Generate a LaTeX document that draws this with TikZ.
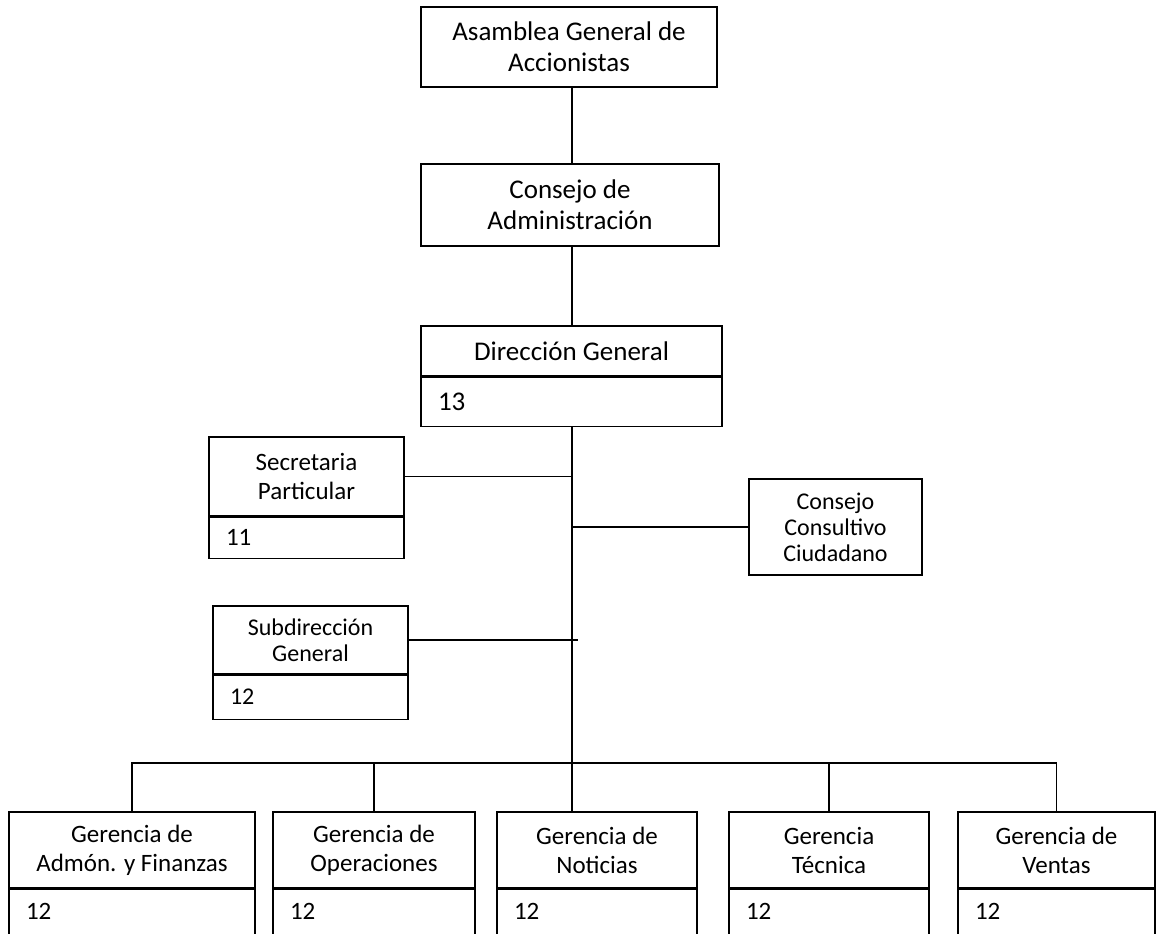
\documentclass[tikz,border=0pt]{standalone}
\usepackage{fontspec}
\setmainfont{Carlito}
\begin{document}
\begin{tikzpicture}[x=1pt,y=-1pt,
  box/.style={draw=black, line width=1.2pt, inner sep=0pt, align=center},
  numpart/.style={draw=black, line width=1.2pt, inner xsep=17pt, inner ysep=0pt, align=left, anchor=north west},
  big/.style={font=\fontsize{27}{31}\selectfont},
  mid/.style={font=\fontsize{25}{29}\selectfont},
  small/.style={font=\fontsize{24}{26}\selectfont},
  link/.style={draw=black, line width=1.2pt},
  thicklink/.style={draw=black, line width=2pt}]
\useasboundingbox (0,0) rectangle (1157,934);
\fill[white] (0,0) rectangle (1157,934);
\coordinate (cx) at (572,0);
\coordinate (cxr) at (578,0);
\coordinate (bus) at (0,763);

% top chain
\node[box, big, minimum width=296pt, minimum height=80pt] (asm) at (569,47) {Asamblea General de\\Accionistas};
\node[box, big, minimum width=298pt, minimum height=82pt] (cadm) at (570,205) {Consejo de\\Administración};
\node[box, big, minimum width=301pt, minimum height=50pt] (dg) at (571.5,351) {Dirección General};
\node[numpart, big, text width=267pt, minimum height=49pt] (dgn) at (dg.south west) {13};

% staff boxes
\node[box, mid, minimum width=195pt, minimum height=79pt] (sp) at (306.5,476.5) {Secretaria\\Particular};
\node[numpart, mid, text width=161pt, minimum height=41pt] (spn) at (sp.south west) {11};
\node[box, small, minimum width=173pt, minimum height=96pt] (ccc) at (835.5,527) {Consejo\\Consultivo\\Ciudadano};
\node[box, small, minimum width=195pt, minimum height=68pt] (sd) at (310.5,640) {Subdirección\\General};
\node[numpart, small, text width=161pt, minimum height=44pt] (sdn) at (sd.south west) {12};

% bottom row
\node[box, mid, minimum width=246pt, minimum height=76pt] (g1) at (132,850) {Gerencia de\\Admón. y Finanzas};
\node[numpart, mid, text width=212pt, minimum height=45pt] (g1n) at (g1.south west) {12};
\node[box, mid, minimum width=202pt, minimum height=76pt] (g2) at (374,850) {Gerencia de\\Operaciones};
\node[numpart, mid, text width=168pt, minimum height=45pt] (g2n) at (g2.south west) {12};
\node[box, mid, minimum width=200pt, minimum height=76pt] (g3) at (597,850) {Gerencia de\\Noticias};
\node[numpart, mid, text width=166pt, minimum height=45pt] (g3n) at (g3.south west) {12};
\node[box, mid, minimum width=200pt, minimum height=76pt] (g4) at (829,850) {Gerencia\\Técnica};
\node[numpart, mid, text width=166pt, minimum height=45pt] (g4n) at (g4.south west) {12};
\node[box, mid, minimum width=197pt, minimum height=76pt] (g5) at (1056.5,850) {Gerencia de\\Ventas};
\node[numpart, mid, text width=163pt, minimum height=45pt] (g5n) at (g5.south west) {12};

% connectors
\draw[thicklink] (asm.south -| cx) -- (cadm.north -| cx);
\draw[link] (cadm.south -| cx) -- (dg.north -| cx);
\draw[link] (dgn.south -| cx) -- (g3.north -| cx);
\draw[link] (sp.east) -- (sp.east -| cx);
\draw[link] (ccc.west) -- (ccc.west -| cx);
\draw[link] (sd.east) -- (sd.east -| cxr);
\draw[thicklink] (g1.north) -- (g1.north |- bus) -- (g5.north |- bus);
\draw[link] (g5.north |- bus) -- (g5.north);
\draw[link] (g2.north) -- (g2.north |- bus);
\draw[link] (g4.north) -- (g4.north |- bus);
\end{tikzpicture}
\end{document}
